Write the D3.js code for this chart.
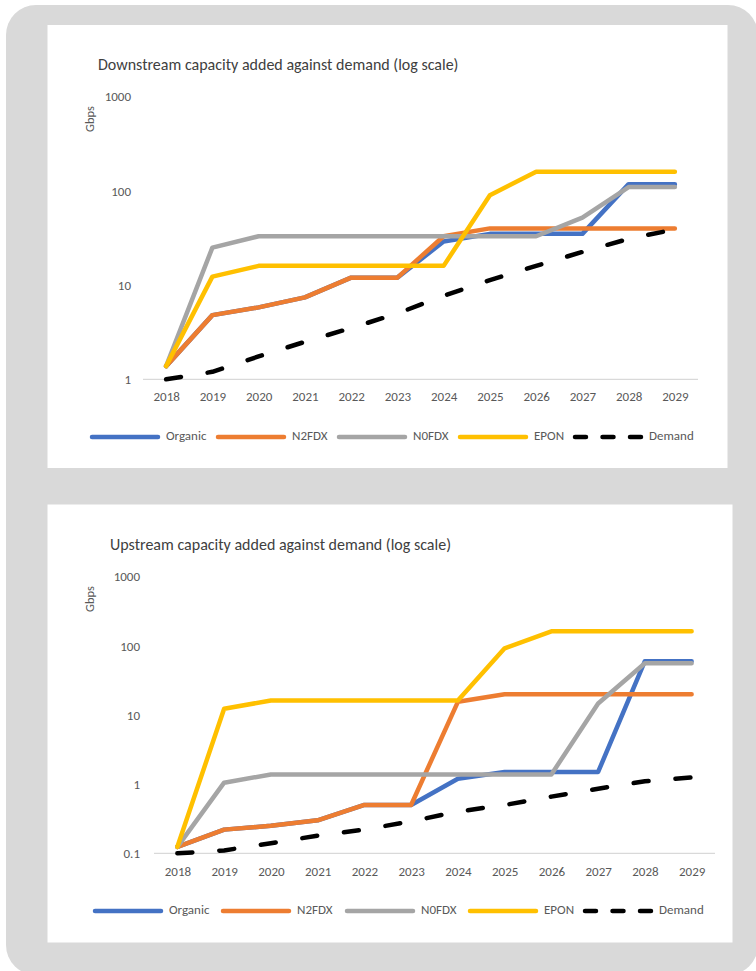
<!DOCTYPE html>
<html><head><meta charset="utf-8">
<script src="https://cdn.jsdelivr.net/npm/d3@7"></script>
<style>html,body{margin:0;padding:0;background:#fff;}svg{display:block;}</style>
</head><body>
<svg id="chart" width="756" height="971"></svg>
<script>
// ---- data ----
const years = ["2018","2019","2020","2021","2022","2023","2024","2025","2026","2027","2028","2029"];
const seriesNames = ["Organic","N2FDX","N0FDX","EPON","Demand"];
const seriesColors = ["#4472C4","#ED7D31","#A5A5A5","#FFC000","#000000"];

const dsOrganic = [1.38, 4.8, 5.8, 7.4, 12, 12, 29, 35, 35, 35, 118, 118];
const dsN2FDX   = [1.38, 4.8, 5.8, 7.4, 12, 12, 33, 40, 40, 40, 40, 40];
const dsN0FDX   = [1.38, 25, 33, 33, 33, 33, 33, 33, 33, 52, 110, 110];
const dsEPON    = [1.38, 12.3, 16, 16, 16, 16, 16, 90, 160, 160, 160, 160];
const dsDemand  = [1, 1.2, 1.75, 2.5, 3.5, 5, 7.7, 11.3, 16, 22.5, 31, 39];

const usOrganic = [0.124, 0.22, 0.25, 0.3, 0.5, 0.5, 1.2, 1.5, 1.5, 1.5, 60, 60];
const usN2FDX   = [0.124, 0.22, 0.25, 0.3, 0.5, 0.5, 15.5, 20, 20, 20, 20, 20];
const usN0FDX   = [0.124, 1.05, 1.38, 1.38, 1.38, 1.38, 1.38, 1.38, 1.38, 14.7, 56, 56];
const usEPON    = [0.124, 12.3, 16.2, 16.2, 16.2, 16.2, 16.2, 92, 162, 162, 162, 162];
const usDemand  = [0.1, 0.11, 0.14, 0.18, 0.22, 0.29, 0.4, 0.5, 0.66, 0.86, 1.1, 1.25];

const dsTicks = [1, 10, 100, 1000];
const usTicks = [0.1, 1, 10, 100, 1000];
const dsTitle = "Downstream capacity added against demand (log scale)";
const usTitle = "Upstream capacity added against demand (log scale)";
const yLabel = "Gbps";

// ---- drawing ----
const FONT = "Carlito, Lato, 'Open Sans', sans-serif";
const svg = d3.select("#chart");

// outer gray panel
svg.append("rect").attr("x", 6).attr("y", 5).attr("width", 752).attr("height", 970)
  .attr("rx", 30).attr("fill", "#d9d9d9");

function drawChart(cfg) {
  const g = svg.append("g");
  g.append("rect").attr("x", cfg.box[0]).attr("y", cfg.box[1])
    .attr("width", cfg.box[2]).attr("height", cfg.box[3]).attr("fill", "#ffffff");

  g.append("text").attr("x", cfg.titleX).attr("y", cfg.titleY)
    .attr("font-family", FONT).attr("font-size", 16).attr("fill", "#404040")
    .attr("dominant-baseline", "middle").text(cfg.title);

  const x = d3.scalePoint().domain(years).range([cfg.x0, cfg.x1]).padding(0.5);
  const y = d3.scaleLog().domain(cfg.yDomain).range([cfg.yBottom, cfg.yTop]);

  // axis line
  g.append("line").attr("x1", cfg.x0).attr("x2", cfg.x1)
    .attr("y1", y(cfg.yDomain[0])).attr("y2", y(cfg.yDomain[0]))
    .attr("stroke", "#d9d9d9").attr("stroke-width", 1.3);

  // y axis (labels only)
  const yAxis = d3.axisLeft(y).tickValues(cfg.ticks).tickSize(0).tickPadding(0)
    .tickFormat(d => String(d));
  const ya = g.append("g").attr("transform", `translate(${cfg.yLabelX},0)`).call(yAxis);
  ya.select(".domain").remove();
  ya.selectAll("text").attr("font-family", FONT).attr("font-size", 13).attr("fill", "#595959");

  // x axis (labels only)
  const xAxis = d3.axisBottom(x).tickSize(0).tickPadding(0);
  const xa = g.append("g").attr("transform", `translate(0,${cfg.xLabelY})`).call(xAxis);
  xa.select(".domain").remove();
  xa.selectAll("text").attr("font-family", FONT).attr("font-size", 13).attr("fill", "#595959")
    .attr("dy", "0.35em");

  // y title
  g.append("text").attr("transform", `translate(${cfg.gbpsX},${cfg.gbpsY}) rotate(-90)`)
    .attr("text-anchor", "middle").attr("dominant-baseline", "middle")
    .attr("font-family", FONT).attr("font-size", 12.5).attr("fill", "#595959").text(yLabel);

  const line = d3.line().x((d, i) => x(years[i])).y(d => y(d));
  cfg.series.forEach((vals, k) => {
    const p = g.append("path").datum(vals).attr("d", line).attr("fill", "none")
      .attr("stroke", seriesColors[k]).attr("stroke-width", 4.5)
      .attr("stroke-linejoin", "round").attr("stroke-linecap", "round");
    if (seriesNames[k] === "Demand") p.attr("stroke-dasharray", "15,27");
  });

  // legend
  const lg = g.append("g");
  seriesNames.forEach((name, k) => {
    const lx = cfg.legendX[k];
    const l = lg.append("line").attr("x1", lx + 2).attr("x2", lx + 68)
      .attr("y1", cfg.legendY).attr("y2", cfg.legendY)
      .attr("stroke", seriesColors[k]).attr("stroke-width", 4.5).attr("stroke-linecap", "round");
    if (name === "Demand") l.attr("stroke-dasharray", "11,16.5");
    lg.append("text").attr("x", lx + 76).attr("y", cfg.legendY)
      .attr("dominant-baseline", "middle").attr("font-family", FONT).attr("font-size", 13)
      .attr("fill", "#595959").text(name);
  });
}

drawChart({
  box: [47.5, 25, 680, 443],
  title: dsTitle, titleX: 98, titleY: 66,
  x0: 143, x1: 698, yTop: 96.7, yBottom: 379.3, yDomain: [1, 1000],
  ticks: dsTicks, yLabelX: 131, xLabelY: 396,
  gbpsX: 91.5, gbpsY: 119,
  series: [dsOrganic, dsN2FDX, dsN0FDX, dsEPON, dsDemand],
  legendX: [90, 216, 337, 458, 573], legendY: 437
});

drawChart({
  box: [47.5, 504.5, 685, 438],
  title: usTitle, titleX: 110, titleY: 546,
  x0: 154, x1: 715, yTop: 576.7, yBottom: 853.3, yDomain: [0.1, 1000],
  ticks: usTicks, yLabelX: 140, xLabelY: 871,
  gbpsX: 91.5, gbpsY: 599,
  series: [usOrganic, usN2FDX, usN0FDX, usEPON, usDemand],
  legendX: [93, 221, 345, 468, 583], legendY: 911
});
</script>
</body></html>
